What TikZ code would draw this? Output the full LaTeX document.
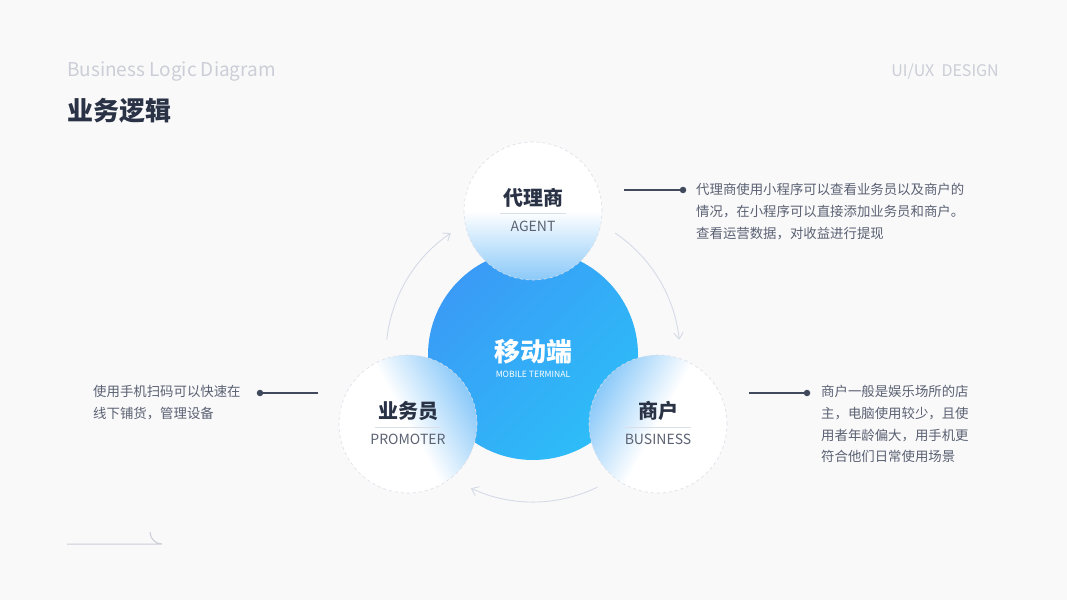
\documentclass[tikz,border=0pt]{standalone}
\usepackage{fontspec}
\setmainfont{Noto Sans CJK SC}
\usetikzlibrary{arrows.meta, fadings}
\definecolor{logicPaper}{HTML}{F9F9FA}
\definecolor{logicShade}{HTML}{E4E4E6}
\definecolor{logicInk}{HTML}{2A3346}
\definecolor{logicSub}{HTML}{5B6272}
\definecolor{logicText}{HTML}{5A6172}
\definecolor{logicLead}{HTML}{414A5C}
\definecolor{logicFaint}{HTML}{CBCED6}
\definecolor{logicRing}{HTML}{D5DAE6}
\definecolor{logicDash}{HTML}{DADEE6}
\definecolor{mobileTop}{HTML}{3A9BF6}
\definecolor{mobileLow}{HTML}{2DBDF8}
\definecolor{bubbleBlue}{HTML}{8FCBF9}
\pgfdeclareverticalshading{bubble}{100bp}{color(0bp)=(bubbleBlue); color(26bp)=(bubbleBlue);
  color(50bp)=(white); color(100bp)=(white)}
\tikzfading[name=streakfade, left color=transparent!100, middle color=transparent!0,
  right color=transparent!100]

\begin{document}
\begin{tikzpicture}[
  x=1pt, y=1pt,
  hub/.style={circle, minimum size=210pt, inner sep=0pt, top color=mobileTop, bottom color=mobileLow,
              shading angle=45},
  role/.style={circle, minimum size=138pt, inner sep=0pt, shading=bubble, draw=logicDash,
               dash pattern=on 3pt off 3pt, line width=0.6pt},
  rolename/.style={font=\fontsize{20}{20}\selectfont\bfseries, text=logicInk},
  roletag/.style={font=\fontsize{14}{14}\selectfont, text=logicSub},
  rule/.style={draw=logicDash, line width=0.8pt},
  note/.style={anchor=north west, align=left, inner sep=0pt, text=logicText,
               font=\fontsize{13.4}{21.8}\selectfont},
  lead/.style={draw=logicLead, line width=1.3pt},
  pin/.style={circle, fill=logicLead, inner sep=0pt, minimum size=6.5pt},
  flow/.style={draw=logicRing, line width=0.9pt, -{Straight Barb[length=2.2mm, width=3.4mm]}}
]
\useasboundingbox (0,0) rectangle (1067,600);
\fill[logicPaper] (0,0) rectangle (1067,600);
\foreach \sx/\sy/\sw in {120/520/60, 250/430/40, 60/330/70, 330/560/35, 150/160/60, 700/520/90}
  \fill[logicShade, opacity=0.7, path fading=streakfade, rotate around={-38:(\sx,\sy)}]
    (\sx-220,\sy-\sw/2) rectangle (\sx+220,\sy+\sw/2);

\node[anchor=west, font=\fontsize{19}{19}\selectfont, text=logicFaint, inner sep=0pt] (caption) at (67,528) {Business Logic Diagram};
\node[anchor=west, font=\fontsize{26}{26}\selectfont\bfseries, text=logicInk, inner sep=0pt] (title) at (67,489) {业务逻辑};
\node[anchor=east, font=\fontsize{16}{16}\selectfont, text=logicFaint, inner sep=0pt] (design) at (999,528) {UI/UX\ \ DESIGN};

\node[hub] (mobile) at (533,245) {};
\node[role, shading angle=0] (agent) at (533,389) {};
\node[role, shading angle=119] (promoter) at (408,176) {};
\node[role, shading angle=241] (business) at (658,176) {};

\node[font=\fontsize{26}{26}\selectfont\bfseries, text=white] (mobiletitle) at (533,248) {移动端};
\node[font=\fontsize{8.6}{8.6}\selectfont, text=white] (mobiletag) at (533,226) {MOBILE TERMINAL};

\node[rolename] (agenttitle) at (533,402) {代理商};
\draw[rule] (500,387) -- (566,387);
\node[roletag] (agenttag) at (533,374) {AGENT};
\node[rolename] (promotertitle) at (408,189) {业务员};
\draw[rule] (375,173) -- (441,173);
\node[roletag] (promotertag) at (408,161) {PROMOTER};
\node[rolename] (businesstitle) at (658,189) {商户};
\draw[rule] (625,173) -- (691,173);
\node[roletag] (businesstag) at (658,161) {BUSINESS};

\draw[flow] ([shift={(174:147)}]mobile.center) arc[start angle=174, end angle=124, radius=147];
\draw[flow] ([shift={(56:147)}]mobile.center) arc[start angle=56, end angle=6, radius=147];
\draw[flow] ([shift={(-64:147)}]mobile.center) arc[start angle=-64, end angle=-115, radius=147];

\coordinate (agentlead) at (624,410);
\node[pin] (agentpin) at (683,410) {};
\draw[lead] (agentlead) -- (agentpin);
\node[note] (agentnote) at (696,417) {代理商使用小程序可以查看业务员以及商户的\\
  情况，在小程序可以直接添加业务员和商户。\\
  查看运营数据，对收益进行提现};

\coordinate (promoterlead) at (318,207);
\node[pin] (promoterpin) at (260,207) {};
\draw[lead] (promoterlead) -- (promoterpin);
\node[note] (promoternote) at (93,215) {使用手机扫码可以快速在\\线下铺货，管理设备};

\coordinate (businesslead) at (749,207);
\node[pin] (businesspin) at (807,207) {};
\draw[lead] (businesslead) -- (businesspin);
\node[note] (businessnote) at (821,215) {商户一般是娱乐场所的店\\主，电脑使用较少，且使\\
  用者年龄偏大，用手机更\\符合他们日常使用场景};

\coordinate (cornerstart) at (67,56);
\coordinate (cornerend) at (162,56);
\draw[draw=logicFaint, line width=1pt] (cornerstart) -- (cornerend) arc[start angle=-90, end angle=-180, radius=12];
\end{tikzpicture}
\end{document}
